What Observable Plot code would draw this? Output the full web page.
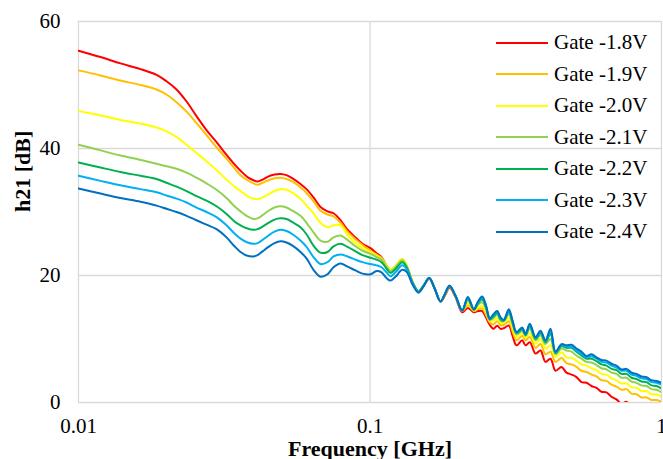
<!DOCTYPE html>
<html>
<head>
<meta charset="utf-8">
<script src="https://cdn.jsdelivr.net/npm/d3@7"></script>
<script src="https://cdn.jsdelivr.net/npm/@observablehq/plot@0.6"></script>
<style>
  html, body { margin: 0; padding: 0; background: #fff; }
  #wrap { position: relative; width: 663px; height: 459px; font-family: "Liberation Serif", "Times New Roman", serif; }
  #legend { position: absolute; left: 496px; top: 27px; font-size: 21px; color: #000; font-family: "Liberation Serif", "Times New Roman", serif; }
  #legend .row { display: flex; align-items: center; height: 31.5px; }
  #legend .sw { width: 52px; height: 0; border-top: 2px solid; margin-right: 6px; }
</style>
</head>
<body>
<div id="wrap"></div>
<script>
// Frequency [GHz]
const freq = [0.01,0.0119,0.01393,0.01632,0.01852,0.02004,0.02169,0.02348,0.0254,0.02749,
0.02975,0.0322,0.03429,0.03596,0.03799,0.03984,0.04113,0.04279,0.04486,0.04703,
0.04932,0.05171,0.05423,0.05775,0.06056,0.064,0.06764,0.07149,0.07496,0.07922,
0.08372,0.08918,0.09425,0.1004,0.1053,0.1095,0.1139,0.1176,0.1223,0.129,
0.1335,0.1399,0.1467,0.1526,0.1596,0.1665,0.1746,0.1816,0.1874,0.1965,
0.2072,0.2166,0.2271,0.2347,0.2426,0.25,0.2576,0.2653,0.2732,0.2804,
0.2877,0.2994,0.3083,0.3182,0.3328,0.3416,0.3534,0.3697,0.3845,0.4,
0.4161,0.4329,0.4539,0.4721,0.4912,0.5109,0.5315,0.5529,0.5753,0.5984,
0.6225,0.6476,0.6737,0.7008,0.729,0.7584,0.7889,0.8206,0.8537,0.8881,
0.9238,0.9611,1.0];

// h21 [dB] per gate voltage
const gate18 = [55.4,54.4,53.4,52.5,51.6,50.6,49.3,47.4,45.1,42.9,
41.0,39.0,37.5,36.5,35.5,35.0,34.8,35.1,35.6,35.9,
36.0,35.8,35.3,34.4,33.6,32.3,30.8,30.1,29.8,28.7,
27.2,26.0,25.0,24.3,23.5,22.9,21.6,20.8,21.4,22.4,
21.5,19.0,17.5,18.3,19.5,18.0,15.9,17.0,18.1,16.6,
14.2,14.9,14.2,14.4,14.4,13.4,12.2,11.6,12.1,11.6,
11.7,12.1,10.5,9.0,9.8,9.0,9.5,7.7,8.2,6.4,
6.9,5.0,5.6,4.7,4.4,4.0,3.2,3.1,2.6,2.3,
1.7,1.6,0.9,0.5,-0.2,0.1,-0.6,-0.5,-1.0,-1.0,
-1.4,-1.3,-1.7];
const gate19 = [52.3,51.5,50.7,50.0,49.3,48.5,47.3,45.8,44.0,42.1,
40.2,38.4,36.9,35.8,35.0,34.5,34.3,34.6,35.0,35.3,
35.4,35.2,34.8,33.9,33.0,31.7,30.2,29.6,29.3,28.3,
26.9,25.7,24.8,23.9,23.3,22.8,21.6,20.9,21.5,22.6,
21.6,19.0,17.5,18.4,19.6,18.0,15.9,17.1,18.3,16.7,
14.4,15.3,14.4,14.7,14.8,13.8,12.6,12.3,12.8,12.2,
12.2,12.8,11.2,9.8,10.5,9.8,10.3,8.6,9.2,7.6,
8.0,6.4,7.0,6.2,6.0,5.6,5.0,4.8,4.4,4.1,
3.5,3.4,2.8,2.5,2.0,2.1,1.4,1.3,0.8,0.8,
0.4,0.4,0.1];
const gate20 = [45.9,45.2,44.5,43.9,43.3,42.7,41.8,40.6,39.3,38.0,
36.6,35.1,34.0,33.3,32.5,32.1,32.0,32.3,32.8,33.3,
33.6,33.5,33.0,32.1,31.0,29.8,28.3,27.6,27.9,27.9,
26.4,25.1,24.3,23.7,23.1,22.6,21.6,20.9,21.5,22.6,
21.6,19.0,17.5,18.4,19.6,18.0,15.9,17.2,18.4,16.8,
14.5,15.7,14.5,15.0,15.2,14.2,12.9,12.9,13.3,12.6,
12.6,13.3,11.8,10.3,11.0,10.2,10.9,9.3,10.0,8.5,
9.0,7.2,7.9,7.1,7.0,6.6,6.0,5.8,5.4,5.1,
4.5,4.4,3.8,3.5,3.0,3.0,2.4,2.3,1.8,1.8,
1.3,1.3,0.9];
const gate21 = [40.6,39.7,38.9,38.2,37.6,37.2,36.8,36.2,35.4,34.5,
33.5,32.2,30.9,30.1,29.3,28.9,29.0,29.5,30.2,30.7,
30.9,30.7,30.2,29.4,28.3,26.8,25.5,25.3,26.0,26.3,
25.6,24.6,23.9,23.4,22.9,22.5,21.4,20.7,21.3,22.4,
21.5,19.0,17.5,18.4,19.6,18.0,15.9,17.3,18.4,16.8,
14.5,16.1,14.6,15.4,15.8,14.7,13.0,13.3,13.8,12.9,
12.8,13.9,12.3,10.7,11.3,10.5,11.6,9.8,10.6,9.2,
10.0,7.6,8.5,8.2,8.0,7.4,6.9,6.4,6.3,5.9,
5.4,5.2,4.7,4.5,3.9,3.9,3.3,3.1,2.7,2.6,
2.1,2.0,1.6];
const gate22 = [37.8,37.0,36.3,35.7,35.2,34.6,34.0,33.3,32.5,31.8,
30.9,29.7,28.5,27.9,27.4,27.2,27.3,27.7,28.3,28.8,
29.0,28.9,28.4,27.6,26.5,24.7,23.6,23.7,24.6,25.0,
24.5,23.8,23.2,22.8,22.5,22.1,21.1,20.4,21.0,22.1,
21.3,18.9,17.5,18.4,19.6,18.0,15.9,17.3,18.4,16.8,
14.5,16.3,14.6,15.6,16.2,15.0,13.1,13.6,14.1,13.1,
12.9,14.3,12.6,10.9,11.5,10.6,12.0,10.0,10.9,9.5,
10.8,7.8,8.9,8.6,8.6,8.0,7.4,6.9,6.9,6.5,
6.0,5.8,5.3,5.1,4.5,4.5,3.9,3.7,3.3,3.2,
2.7,2.6,2.2];
const gate23 = [35.7,34.9,34.2,33.6,33.1,32.6,32.1,31.5,30.7,30.0,
29.2,27.9,26.6,25.8,25.2,25.0,25.1,25.6,26.3,26.9,
27.2,27.0,26.5,25.5,24.5,22.9,21.8,22.1,23.0,23.3,
23.0,22.5,22.1,21.8,21.6,21.3,20.5,19.9,20.5,21.6,
21.0,18.8,17.4,18.4,19.6,18.0,15.9,17.3,18.4,16.8,
14.5,16.5,14.7,15.8,16.5,15.2,13.2,13.8,14.3,13.3,
13.0,14.5,12.8,11.0,11.7,10.7,12.2,10.2,11.1,9.7,
11.2,7.9,9.1,8.8,8.8,8.2,7.7,7.1,7.3,6.9,
6.4,6.3,5.8,5.5,5.0,5.0,4.4,4.2,3.8,3.7,
3.2,3.1,2.8];
const gate24 = [33.7,32.9,32.2,31.6,31.0,30.5,30.0,29.4,28.7,28.0,
27.3,26.0,24.6,23.7,23.1,23.0,23.2,23.8,24.5,25.1,
25.4,25.2,24.7,23.7,22.7,20.9,19.8,20.2,21.3,21.9,
21.4,20.8,20.3,20.2,20.7,20.5,19.6,19.2,19.8,20.9,
20.6,18.6,17.3,18.3,19.6,18.0,15.9,17.3,18.4,16.8,
14.5,16.6,14.7,15.9,16.7,15.3,13.2,13.9,14.4,13.4,
13.0,14.7,12.9,11.1,11.8,10.8,12.4,10.3,11.3,9.8,
11.6,8.0,9.2,9.0,9.1,8.5,8.0,7.3,7.6,7.1,
6.7,6.6,6.1,5.8,5.2,5.3,4.7,4.5,4.1,4.0,
3.5,3.4,3.1];

const seriesNames = ["Gate -1.8V","Gate -1.9V","Gate -2.0V","Gate -2.1V","Gate -2.2V","Gate -2.3V","Gate -2.4V"];
const seriesValues = [gate18, gate19, gate20, gate21, gate22, gate23, gate24];
const xTicks = [0.01, 0.1, 1];
const yTicks = [0, 20, 40, 60];

const colors = ["#ff0000","#ffc000","#ffff00","#92d050","#00b050","#00b0f0","#0070c0"];

const rows = [];
seriesNames.forEach((name, k) => {
  seriesValues[k].forEach((v, i) => rows.push({f: freq[i], v, s: name}));
});

const grid = "#d9d9d9";
const serif = "'Liberation Serif', 'Times New Roman', serif";
const chart = Plot.plot({
  width: 663,
  height: 459,
  marginLeft: 78,
  marginRight: 2,
  marginTop: 21,
  marginBottom: 57,
  style: {fontFamily: serif, fontSize: "21px", color: "#000", background: "#fff", overflow: "visible"},
  x: {type: "log", domain: [0.01, 1]},
  y: {domain: [0, 60]},
  color: {domain: seriesNames, range: colors},
  marks: [
    Plot.gridY(yTicks.filter(d => d > 0), {stroke: grid, strokeOpacity: 1, strokeWidth: 1.3}),
    Plot.gridX([0.1, 1], {stroke: grid, strokeOpacity: 1, strokeWidth: 1.3}),
    Plot.ruleX([0.01], {stroke: grid, strokeWidth: 1.3}),
    Plot.ruleY([0], {stroke: grid, strokeWidth: 1.6}),
    Plot.axisX(xTicks, {tickSize: 0, tickPadding: 16, tickFormat: d => String(d), label: null, fontSize: 21, fontFamily: serif}),
    Plot.axisY(yTicks, {tickSize: 0, tickPadding: 18, label: null, fontSize: 21, fontFamily: serif}),
    Plot.line(rows, {x: "f", y: "v", z: "s", stroke: "s", strokeWidth: 2, curve: "catmull-rom", clip: true}),
    Plot.text(["Frequency [GHz]"], {frameAnchor: "bottom", lineAnchor: "middle", dy: 46, text: d => d, fontWeight: "bold", fontSize: 22, fontFamily: serif}),
    Plot.text(["h21 [dB]"], {frameAnchor: "left", dx: -56, rotate: -90, text: d => d, fontWeight: "bold", fontSize: 22, fontFamily: serif})
  ]
});

const wrap = document.getElementById("wrap");
wrap.appendChild(chart);

const legend = document.createElement("div");
legend.id = "legend";
seriesNames.forEach((name, k) => {
  const row = document.createElement("div");
  row.className = "row";
  const sw = document.createElement("span");
  sw.className = "sw";
  sw.style.borderTopColor = colors[k];
  const tx = document.createElement("span");
  tx.textContent = name;
  row.appendChild(sw);
  row.appendChild(tx);
  legend.appendChild(row);
});
wrap.appendChild(legend);
</script>
</body>
</html>
